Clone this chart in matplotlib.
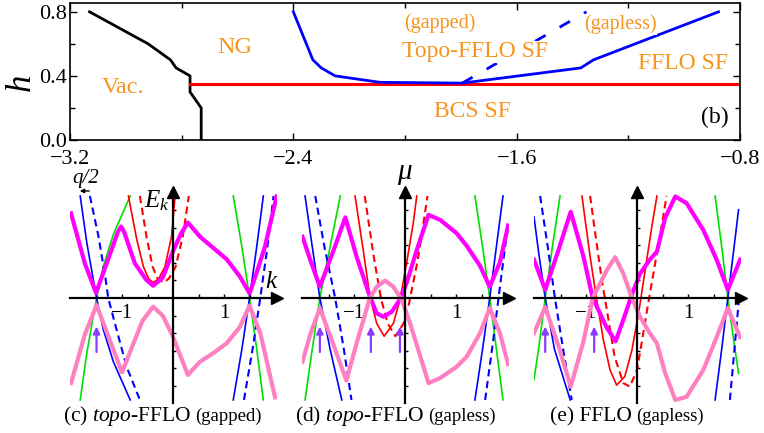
import matplotlib
matplotlib.use("Agg")
import matplotlib.pyplot as plt
from matplotlib.patches import FancyArrowPatch

plt.rcParams["font.family"] = "Liberation Serif"
plt.rcParams["mathtext.fontset"] = "custom"
plt.rcParams["mathtext.it"] = "Liberation Serif:italic"
plt.rcParams["mathtext.rm"] = "Liberation Serif"

ORANGE = "#f7941d"
GREEN = "#00e000"
BLUE = "#0000ff"
RED = "#ff0000"
MAGENTA = "#ff00ff"
PINK = "#ff80c0"
VIOLET = "#8a3cff"

# ---- (b) phase diagram: h vs mu ----
vacMu = [-3.13, -2.92, -2.84, -2.82, -2.77, -2.77, -2.73, -2.73]
vacH = [0.8, 0.6, 0.5, 0.45, 0.4, 0.3, 0.2, 0.0]
bcsMu = [-2.77, -0.8]
bcsH = [0.35, 0.35]
topoMu = [-2.4, -2.33, -2.30, -2.25, -2.09, -1.795, -1.37, -1.325, -0.877]
topoH = [0.8, 0.5, 0.45, 0.4, 0.36, 0.355, 0.45, 0.5, 0.8]
gaplessMu = [-1.795, -1.35]
gaplessH = [0.355, 0.8]

# ---- (c) topo-FFLO (gapped): (k, E) ----
cGreen = [
    [(-0.84, 2.0), (-1.17, 1.25), (-1.37, 0.61), (-1.5, 0.0), (-1.69, -1.08), (-1.82, -2.0)],
    [(1.18, 2.0), (1.35, 1.0), (1.5, 0.0), (1.64, -1.0), (1.77, -2.0)],
]
cBlue = [
    [(-1.82, 2.0), (-1.69, 1.08), (-1.5, 0.0), (-1.37, -0.61), (-1.17, -1.25), (-0.84, -2.0)],
    [(1.18, -2.0), (1.35, -1.0), (1.5, 0.0), (1.64, 1.0), (1.77, 2.0)],
]
cBlueDash = [
    [(-1.63, 2.0), (-1.46, 1.2), (-1.33, 0.42), (-1.27, 0.0), (-1.14, -0.5), (-0.91, -1.35), (-0.65, -2.0)],
    [(1.39, -2.0), (1.56, -1.0), (1.71, 0.0), (1.85, 1.0), (1.97, 2.0)],
]
cRed = [(-0.875, 2.0), (-0.71, 1.14), (-0.58, 0.61), (-0.48, 0.38), (-0.39, 0.3),
        (-0.28, 0.38), (-0.16, 0.61), (-0.03, 1.2), (0.04, 2.0)]
cRedDash = [(-0.65, 2.0), (-0.52, 1.2), (-0.4, 0.61), (-0.3, 0.38), (-0.19, 0.3),
            (-0.08, 0.38), (0.05, 0.61), (0.19, 1.2), (0.31, 2.0)]
cMagenta = [(-2.0, 1.66), (-1.73, 0.68), (-1.51, 0.1), (-1.3, 0.68), (-1.08, 1.3),
            (-1.02, 1.4), (-0.96, 1.3), (-0.75, 0.68), (-0.52, 0.35), (-0.39, 0.24),
            (-0.2, 0.4), (0.0, 0.92), (0.15, 1.25), (0.29, 1.48), (0.53, 1.2),
            (0.79, 0.98), (1.05, 0.76), (1.31, 0.42), (1.5, 0.09), (1.64, 0.5),
            (1.8, 1.0), (2.03, 1.99)]
cPink = [(-2.0, -1.67), (-1.73, -0.72), (-1.5, -0.14), (-1.25, -0.8), (-1.0, -1.46),
         (-0.78, -0.9), (-0.6, -0.45), (-0.39, -0.17), (-0.2, -0.35), (0.0, -0.76),
         (0.15, -1.15), (0.29, -1.51), (0.53, -1.25), (0.79, -1.08), (1.05, -0.89),
         (1.31, -0.57), (1.5, -0.15), (1.71, -0.69), (2.0, -1.95)]
cArrows = [-1.5]

# ---- (d) topo-FFLO (gapless) ----
dGreen = [
    [(-1.27, 2.0), (-1.47, 1.0), (-1.67, 0.0), (-1.83, -1.08), (-1.96, -2.0)],
    [(1.37, 2.0), (1.52, 1.0), (1.66, 0.0), (1.79, -1.0), (1.92, -2.0)],
]
dBlue = [
    [(-1.96, 2.0), (-1.83, 1.08), (-1.67, 0.0), (-1.47, -1.0), (-1.24, -2.0)],
    [(1.37, -2.0), (1.52, -1.0), (1.66, 0.0), (1.79, 1.0), (1.92, 2.0)],
]
dBlueDash = [
    [(-1.76, 2.0), (-1.58, 1.0), (-1.37, 0.0), (-1.2, -1.0), (-1.05, -2.0)],
    [(1.57, -2.0), (1.73, -0.82), (1.86, 0.22), (2.0, 1.3)],
]
dRed = [(-0.98, 2.0), (-0.82, 0.94), (-0.69, 0.03), (-0.555, -0.5), (-0.41, -0.75),
        (-0.23, -0.5), (-0.1, -0.04), (0.03, 0.68), (0.16, 1.46), (0.23, 2.0)]
dRedDash = [(-0.79, 2.0), (-0.62, 0.85), (-0.47, -0.02), (-0.34, -0.5), (-0.19, -0.75),
            (-0.03, -0.5), (0.08, -0.1), (0.25, 0.75), (0.36, 1.46), (0.44, 2.0)]
dMagenta = [(-2.01, 1.2), (-1.86, 0.75), (-1.67, 0.22), (-1.41, 0.91), (-1.17, 1.58),
            (-0.95, 0.81), (-0.69, 0.03), (-0.555, -0.3), (-0.425, -0.37), (-0.26, -0.27),
            (-0.1, -0.03), (0.03, 0.29), (0.23, 0.94), (0.46, 1.63), (0.69, 1.53),
            (1.01, 1.27), (1.21, 1.02), (1.47, 0.63), (1.66, 0.22), (1.86, 0.7), (2.02, 1.42)]
dPink = [(-2.01, -1.25), (-1.86, -0.72), (-1.67, -0.2), (-1.41, -0.9), (-1.15, -1.62),
         (-0.95, -0.89), (-0.69, 0.0), (-0.555, 0.22), (-0.39, 0.34), (-0.23, 0.22),
         (-0.065, -0.04), (0.1, -0.5), (0.46, -1.67), (0.69, -1.57), (1.01, -1.35),
         (1.21, -1.15), (1.47, -0.69), (1.66, -0.2), (1.86, -0.69), (2.02, -1.3)]
dArrows = [-1.67, -0.67, -0.1]

# ---- (e) FFLO (gapless) ----
eGreen = [
    [(-1.51, 2.0), (-1.66, 1.0), (-1.8, 0.0), (-1.93, -1.0), (-2.02, -1.6)],
    [(1.53, 2.0), (1.66, 1.0), (1.78, 0.0), (1.89, -0.8), (1.99, -1.48)],
]
eBlue = [
    [(-2.02, 1.59), (-1.93, 0.9), (-1.8, 0.0), (-1.62, -1.0), (-1.31, -2.0)],
    [(1.53, -2.0), (1.66, -1.0), (1.78, 0.0), (1.89, 0.9), (1.99, 1.73)],
]
eBlueDash = [
    [(-1.9, 2.0), (-1.75, 1.0), (-1.61, 0.0), (-1.45, -1.0), (-1.28, -2.0)],
    [(1.82, -2.0), (1.91, -1.0), (2.0, 0.0)],
]
eRed = [(-1.08, 2.0), (-0.92, 0.81), (-0.79, -0.04), (-0.66, -0.82), (-0.53, -1.41),
        (-0.4, -1.71), (-0.24, -1.54), (-0.1, -1.02), (0.03, -0.3), (0.16, 0.55),
        (0.29, 1.4), (0.39, 2.0)]
eRedDash = [(-0.92, 2.0), (-0.82, 1.27), (-0.69, 0.35), (-0.56, -0.43), (-0.44, -1.15),
            (-0.27, -1.67), (-0.14, -1.74), (0.0, -1.41), (0.09, -0.88), (0.22, -0.1),
            (0.35, 0.65), (0.48, 1.4), (0.58, 2.0)]
eMagenta = [(-2.02, 0.75), (-1.8, 0.16), (-1.54, 0.94), (-1.3, 1.69), (-1.05, 0.81),
            (-0.87, 0.0), (-0.59, -0.59), (-0.42, -0.85), (-0.27, -0.43), (-0.1, 0.07),
            (0.06, 0.48), (0.25, 0.75), (0.39, 0.91), (0.55, 1.57), (0.75, 1.99),
            (0.97, 1.86), (1.3, 1.33), (1.56, 0.75), (1.78, 0.16), (2.02, 0.75)]
ePink = [(-2.02, -0.69), (-1.8, -0.18), (-1.54, -0.94), (-1.3, -1.74), (-1.05, -0.85),
         (-0.87, 0.0), (-0.59, 0.55), (-0.43, 0.8), (-0.27, 0.48), (-0.1, 0.0),
         (0.06, -0.37), (0.25, -0.69), (0.39, -0.89), (0.55, -1.47), (0.75, -2.0),
         (0.97, -1.94), (1.3, -1.41), (1.56, -0.77), (1.78, -0.2), (2.02, -0.77)]
eArrows = [-1.8, -0.84]


def drawPhaseDiagram(ax):
    ax.plot(vacMu, vacH, color="k", lw=2)
    ax.plot(bcsMu, bcsH, color=RED, lw=2.2)
    ax.plot(topoMu, topoH, color=BLUE, lw=2)
    ax.plot(gaplessMu, gaplessH, color=BLUE, lw=2, dashes=(4.3, 5.8))

    ax.set_xlim(-3.2, -0.8)
    ax.set_ylim(0, 0.855)
    ax.set_xticks([-3.2, -2.4, -1.6, -0.8])
    ax.set_xticks([-2.8, -2.0, -1.2], minor=True)
    ax.set_yticks([0.0, 0.4, 0.8])
    ax.set_yticks([0.2, 0.6], minor=True)
    ax.tick_params(which="both", direction="in", top=True, right=True, width=1)
    ax.tick_params(which="major", length=5)
    ax.tick_params(which="minor", length=3.5)
    ax.tick_params(axis="x", labelsize=16, pad=7)
    ax.tick_params(axis="y", labelsize=16, pad=2.5)
    for s in ax.spines.values():
        s.set_linewidth(1.2)

    txt = dict(color=ORANGE, ha="center", va="center")
    ax.text(-2.609, 0.575, "NG", fontsize=17.5, **txt)
    ax.text(-3.01, 0.33, "Vac.", fontsize=17.5, **txt)
    ax.text(-1.875, 0.73, "(gapped)", fontsize=14.5, **txt)
    ax.text(-1.749, 0.55, "Topo-FFLO SF", fontsize=17, **txt,
            bbox=dict(fc="white", ec="none", pad=0.5))
    ax.text(-1.23, 0.72, "(gapless)", fontsize=14.5, **txt,
            bbox=dict(fc="white", ec="none", pad=0.5))
    ax.text(-1.004, 0.48, "FFLO SF", fontsize=17, **txt)
    ax.text(-1.76, 0.175, "BCS SF", fontsize=17, **txt)
    ax.text(-0.89, 0.14, "(b)", fontsize=17, ha="center", va="center")


def plotCurve(ax, pts, **kw):
    k, e = zip(*pts)
    ax.plot(k, e, **kw)


def drawBandPanel(ax, green, blue, blueDash, red, redDash, magenta, pink, arrows):
    for arm in green:
        plotCurve(ax, arm, color=GREEN, lw=1.2)
    for arm in blue:
        plotCurve(ax, arm, color=BLUE, lw=1.2)
    for arm in blueDash:
        plotCurve(ax, arm, color=BLUE, lw=1.5, dashes=(3.5, 2.2))
    plotCurve(ax, red, color=RED, lw=1.2)
    plotCurve(ax, redDash, color=RED, lw=1.5, dashes=(3.5, 2.2))
    plotCurve(ax, magenta, color=MAGENTA, lw=3, solid_joinstyle="round")
    plotCurve(ax, pink, color=PINK, lw=3, solid_joinstyle="round")
    for k in arrows:
        ax.annotate("", xy=(k, -0.56), xytext=(k, -1.06),
                    arrowprops=dict(arrowstyle="-|>", color=VIOLET, lw=1.6,
                                    mutation_scale=10, shrinkA=0, shrinkB=0))

    ax.set_xlim(-2.02, 2.03)
    ax.set_ylim(-2.06, 2.08)
    ax.patch.set_visible(False)
    for s in ["top", "right"]:
        ax.spines[s].set_visible(False)
    for s in ["left", "bottom"]:
        ax.spines[s].set_position("zero")
        ax.spines[s].set_linewidth(1.6)
    ax.set_xticks([-1, 1])
    ax.set_xticklabels(["\u22121", "1"])
    ax.set_xticks([-1.5, -0.5, 0.5, 1.5], minor=True)
    ax.set_yticks([])
    ax.set_yticks([i * 0.345 for i in range(-5, 6) if i != 0], minor=True)
    ax.tick_params(axis="x", which="both", direction="in", length=3, width=1,
                   labelsize=15, pad=4)
    ax.tick_params(axis="y", which="both", direction="in", length=2.5, width=1)
    ax.plot(1, 0, ">", color="k", ms=8, transform=ax.get_yaxis_transform(), clip_on=False)
    ax.plot(0, 1, "^", color="k", ms=8, transform=ax.get_xaxis_transform(), clip_on=False)


def addCaption(fig, x, main, extra):
    y = 1 - 421 / 433
    t = fig.text(x / 764, y, main, fontsize=15.5, va="baseline")
    bb = t.get_window_extent(fig.canvas.get_renderer())
    fig.text(bb.x1 / fig.bbox.width + 4 / 764, y, extra, fontsize=13.5, va="baseline")


if __name__ == "__main__":
    fig = plt.figure(figsize=(7.64, 4.33), dpi=100)

    axB = fig.add_axes([70 / 764, 1 - 140 / 433, 670 / 764, 137 / 433])
    drawPhaseDiagram(axB)
    fig.text(21 / 764, 1 - 82 / 433, "h", style="italic", fontsize=25,
             rotation=90, ha="center", va="center")
    fig.text(404 / 764, 1 - 172 / 433, "\u03bc", style="italic", fontsize=21,
             ha="center", va="center")

    bottom = 1 - 403 / 433
    height = 211.1 / 433
    width = 206.6 / 764
    axC = fig.add_axes([70 / 764, bottom, width, height])
    axD = fig.add_axes([302 / 764, bottom, width, height])
    axE = fig.add_axes([534 / 764, bottom, width, height])

    drawBandPanel(axC, cGreen, cBlue, cBlueDash, cRed, cRedDash, cMagenta, cPink, cArrows)
    drawBandPanel(axD, dGreen, dBlue, dBlueDash, dRed, dRedDash, dMagenta, dPink, dArrows)
    drawBandPanel(axE, eGreen, eBlue, eBlueDash, eRed, eRedDash, eMagenta, ePink, eArrows)

    axC.text(-0.07, 2.14, "$E_k$", fontsize=18, ha="right", va="top")
    axC.text(1.94, 0.31, "$k$", fontsize=18, ha="center", va="center")
    fig.text(86 / 764, 1 - 178 / 433, "q/2", style="italic", fontsize=15,
             ha="center", va="center")
    fig.add_artist(FancyArrowPatch(
        (92 / 764, 1 - 191 / 433), (77 / 764, 1 - 191 / 433),
        transform=fig.transFigure, arrowstyle="-|>", mutation_scale=6,
        color="k", lw=1))

    addCaption(fig, 63, r"(c) $\mathit{topo}$-FFLO", "(gapped)")
    addCaption(fig, 295, r"(d) $\mathit{topo}$-FFLO", "(gapless)")
    addCaption(fig, 550, "(e) FFLO", "(gapless)")

    fig.savefig("out.png", dpi=100)
